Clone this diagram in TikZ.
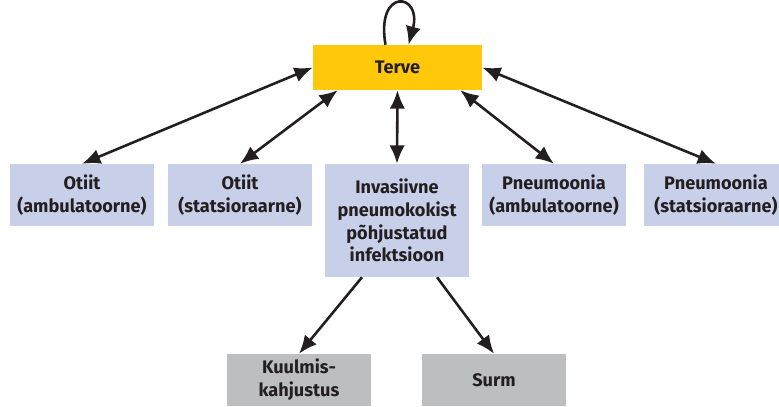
\documentclass[tikz,border=0pt]{standalone}
\usepackage{fontspec}
\setmainfont{Fira Sans}
\usetikzlibrary{arrows.meta}
\definecolor{tervecol}{HTML}{FFC80B}
\definecolor{boxblue}{HTML}{C8CFE8}
\definecolor{boxgray}{HTML}{BDBEC0}
\definecolor{txt}{HTML}{231F20}
\begin{document}
\begin{tikzpicture}[x=0.03cm, y=-0.03cm]
\tikzstyle{box}=[fill=boxblue, text=txt, align=center, inner sep=0pt,
                 minimum width=4.32cm, minimum height=1.86cm,
                 font=\bfseries\fontsize{15.5}{19.5}\selectfont]
\tikzstyle{endbox}=[box, fill=boxgray, minimum height=1.56cm]
\tikzstyle{arr}=[draw=txt, line width=2.2pt, -{Latex[length=5.5mm,width=4.6mm]}]
\tikzstyle{darr}=[arr, {Latex[length=5.5mm,width=4.6mm]}-{Latex[length=5.5mm,width=4.6mm]}]
\useasboundingbox (0,0) rectangle (779,406);
\node[box, fill=tervecol, minimum width=5.07cm, minimum height=1.35cm] (terve) at (397.5,67.5) {Terve};
\node[box] (ota) at (82,195) {Otiit\\(ambulatoorne)};
\node[box] (ots) at (240,195) {Otiit\\(statsioraarne)};
\node[box, minimum height=3.39cm] (inv) at (397,220.5) {Invasiivne\\pneumokokist\\põhjustatud\\infektsioon};
\node[box] (pna) at (554,195) {Pneumoonia\\(ambulatoorne)};
\node[box] (pns) at (716,195) {Pneumoonia\\(statsioraarne)};
\node[endbox] (kuul) at (299,380) {Kuulmis-\\kahjustus};
\node[endbox] (surm) at (494,380) {Surm};
% Terve <-> haigused
\draw[darr] (terve.west) -- (ota.north);
\draw[darr] ([xshift=25*0.03cm]terve.south west) -- (ots.north);
\draw[darr] (terve.south) -- (inv.north);
\draw[darr] ([xshift=-22*0.03cm]terve.south east) -- (pna.north);
\draw[darr] (terve.east) -- (pns.north);
\draw[arr] ([xshift=-12*0.03cm]terve.north) .. controls +(-10,-58) and +(14,-52) .. ([xshift=11*0.03cm]terve.north);
% tagajärjed
\foreach \i/\j in {-35/kuul, 40/surm}{\draw[arr] ([xshift=\i*0.03cm]inv.south) -- (\j.north);}
\end{tikzpicture}
\end{document}
